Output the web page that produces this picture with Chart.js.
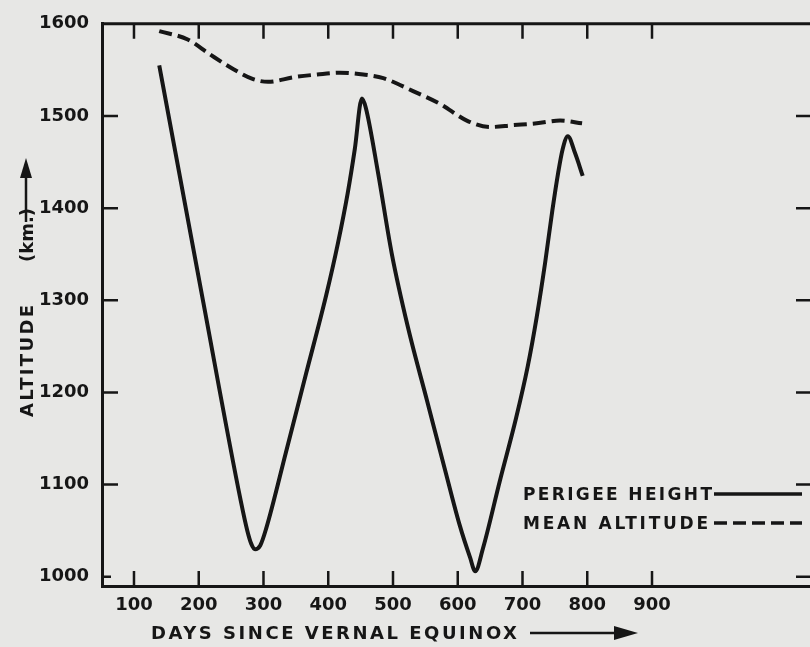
<!DOCTYPE html>
<html>
<head>
<meta charset="utf-8">
<script src="https://cdn.jsdelivr.net/npm/chart.js@4.4.1/dist/chart.umd.min.js"></script>
<style>
  html, body { margin: 0; padding: 0; background: #e7e7e5; overflow: hidden; }
  #wrap { width: 810px; height: 647px; }
</style>
</head>
<body>
<div id="wrap"><canvas id="c" width="810" height="647"></canvas></div>
<script>
// ---- data ----
const xTickValues = [100, 200, 300, 400, 500, 600, 700, 800, 900];
const yTickValues = [1000, 1100, 1200, 1300, 1400, 1500, 1600];

const perigeeDays = [139, 207, 265, 275, 281, 287, 295, 304, 335, 366, 397, 415, 430, 441, 452, 458, 477, 498, 523, 553, 580, 603, 619, 627, 639, 665, 690, 708, 722, 735, 746, 755, 762, 770, 781, 793];
const perigeeKm   = [1555, 1298, 1082, 1050, 1036, 1030, 1034, 1052, 1136, 1221, 1306, 1362, 1416, 1464, 1519, 1509, 1438, 1351, 1271, 1190, 1117, 1056, 1021, 1006, 1031, 1104, 1172, 1228, 1282, 1341, 1397, 1438, 1464, 1478, 1460, 1435];

const meanDays = [139, 183, 217, 253, 284, 307, 346, 383, 418, 454, 485, 531, 573, 614, 650, 685, 722, 758, 792];
const meanKm   = [1592, 1583, 1567, 1551, 1540, 1537, 1542, 1545, 1547, 1545, 1541, 1527, 1513, 1495, 1488, 1490, 1492, 1495, 1492];

const seriesNames = ['PERIGEE HEIGHT', 'MEAN ALTITUDE'];
const xTitle = 'DAYS SINCE VERNAL EQUINOX';
const yTitleMain = 'ALTITUDE';
const yTitleUnit = '(km.)';

// ---- styling ----
const INK = '#161616';
const FONT = 'DejaVu Sans';
Chart.defaults.font.family = FONT;
Chart.defaults.font.size = 18;
Chart.defaults.color = INK;

function spacedText(ctx, text, x, y, targetWidth) {
  ctx.letterSpacing = '0px';
  const w = ctx.measureText(text).width;
  const sp = Math.max(0, (targetWidth - w) / (text.length - 1));
  ctx.letterSpacing = sp + 'px';
  ctx.fillText(text, x, y);
  ctx.letterSpacing = '0px';
}

const decorPlugin = {
  id: 'decor',
  afterDatasetsDraw(chart) {
    const ctx = chart.ctx;
    const { left, right, top, bottom } = chart.chartArea;
    const xs = chart.scales.x, ys = chart.scales.y;
    ctx.save();
    ctx.strokeStyle = INK;
    ctx.lineCap = 'butt';
    // top frame line
    ctx.lineWidth = 3;
    ctx.beginPath(); ctx.moveTo(left - 1, top); ctx.lineTo(right, top); ctx.stroke();
    // inward ticks
    ctx.lineWidth = 2.5;
    xTickValues.forEach(v => {
      const px = xs.getPixelForValue(v);
      ctx.beginPath();
      ctx.moveTo(px, bottom); ctx.lineTo(px, bottom - 15);
      ctx.moveTo(px, top); ctx.lineTo(px, top + 15);
      ctx.stroke();
    });
    yTickValues.forEach(v => {
      if (v === 1600) return;
      const py = ys.getPixelForValue(v);
      ctx.beginPath();
      ctx.moveTo(left, py); ctx.lineTo(left + (v === 1000 ? 9 : 16), py);
      ctx.moveTo(right - 14, py); ctx.lineTo(right, py);
      ctx.stroke();
    });
    // legend (text then line sample, inside plot area)
    ctx.fillStyle = INK;
    ctx.font = 'bold 17px ' + FONT;
    ctx.textBaseline = 'alphabetic';
    ctx.textAlign = 'left';
    spacedText(ctx, seriesNames[0], 523, 500, 189);
    spacedText(ctx, seriesNames[1], 523, 529, 185);
    ctx.lineWidth = 3.5;
    ctx.setLineDash([]);
    ctx.beginPath(); ctx.moveTo(714, 494); ctx.lineTo(802, 494); ctx.stroke();
    ctx.setLineDash([13, 6]);
    ctx.beginPath(); ctx.moveTo(714, 523); ctx.lineTo(802, 523); ctx.stroke();
    ctx.setLineDash([]);
    ctx.restore();
  },
  afterDraw(chart) {
    const ctx = chart.ctx;
    ctx.save();
    ctx.fillStyle = INK;
    ctx.strokeStyle = INK;
    ctx.font = 'bold 18px ' + FONT;
    ctx.textBaseline = 'alphabetic';
    ctx.textAlign = 'left';
    // x title + arrow
    spacedText(ctx, xTitle, 151, 639, 366);
    ctx.lineWidth = 2.5;
    ctx.beginPath(); ctx.moveTo(530, 633); ctx.lineTo(620, 633); ctx.stroke();
    ctx.beginPath(); ctx.moveTo(638, 633); ctx.lineTo(614, 626); ctx.lineTo(614, 640); ctx.closePath(); ctx.fill();
    // y title (rotated) + arrow
    ctx.translate(33, 0);
    ctx.rotate(-Math.PI / 2);
    spacedText(ctx, yTitleMain, -417, 0, 112);
    spacedText(ctx, yTitleUnit, -262, 0, 38);
    ctx.restore();
    ctx.save();
    ctx.strokeStyle = INK; ctx.fillStyle = INK; ctx.lineWidth = 2.5;
    ctx.beginPath(); ctx.moveTo(26, 222); ctx.lineTo(26, 172); ctx.stroke();
    ctx.beginPath(); ctx.moveTo(26, 158); ctx.lineTo(20, 178); ctx.lineTo(32, 178); ctx.closePath(); ctx.fill();
    ctx.restore();
  }
};

const chart = new Chart(document.getElementById('c'), {
  type: 'line',
  data: {
    datasets: [
      {
        label: seriesNames[0],
        data: perigeeDays.map((d, i) => ({ x: d, y: perigeeKm[i] })),
        borderColor: INK,
        borderWidth: 4,
        pointRadius: 0,
        cubicInterpolationMode: 'monotone',
        fill: false
      },
      {
        label: seriesNames[1],
        data: meanDays.map((d, i) => ({ x: d, y: meanKm[i] })),
        borderColor: INK,
        borderWidth: 4,
        borderDash: [13, 6],
        pointRadius: 0,
        cubicInterpolationMode: 'monotone',
        fill: false
      }
    ]
  },
  options: {
    responsive: false,
    animation: false,
    devicePixelRatio: 1,
    layout: { padding: { top: 19, right: 0, left: 0, bottom: 0 } },
    plugins: { legend: { display: false }, tooltip: { enabled: false } },
    scales: {
      x: {
        type: 'linear',
        position: 'bottom',
        min: 50.6,
        max: 1144,
        afterBuildTicks: s => { s.ticks = xTickValues.map(v => ({ value: v })); },
        afterFit: s => { s.height = 61; },
        ticks: { padding: 9, autoSkip: false, maxRotation: 0, font: { size: 18, weight: 'bold' }, color: INK, callback: v => String(v) },
        grid: { display: false, drawTicks: false },
        border: { display: true, color: INK, width: 3 }
      },
      y: {
        type: 'linear',
        position: 'left',
        min: 990,
        max: 1600,
        afterBuildTicks: s => { s.ticks = yTickValues.map(v => ({ value: v })); },
        afterFit: s => { s.width = 102; },
        ticks: { padding: 13, font: { size: 18, weight: 'bold' }, color: INK, callback: v => String(v) },
        grid: { display: false, drawTicks: false },
        border: { display: true, color: INK, width: 3 }
      }
    }
  },
  plugins: [decorPlugin]
});
</script>
</body>
</html>
